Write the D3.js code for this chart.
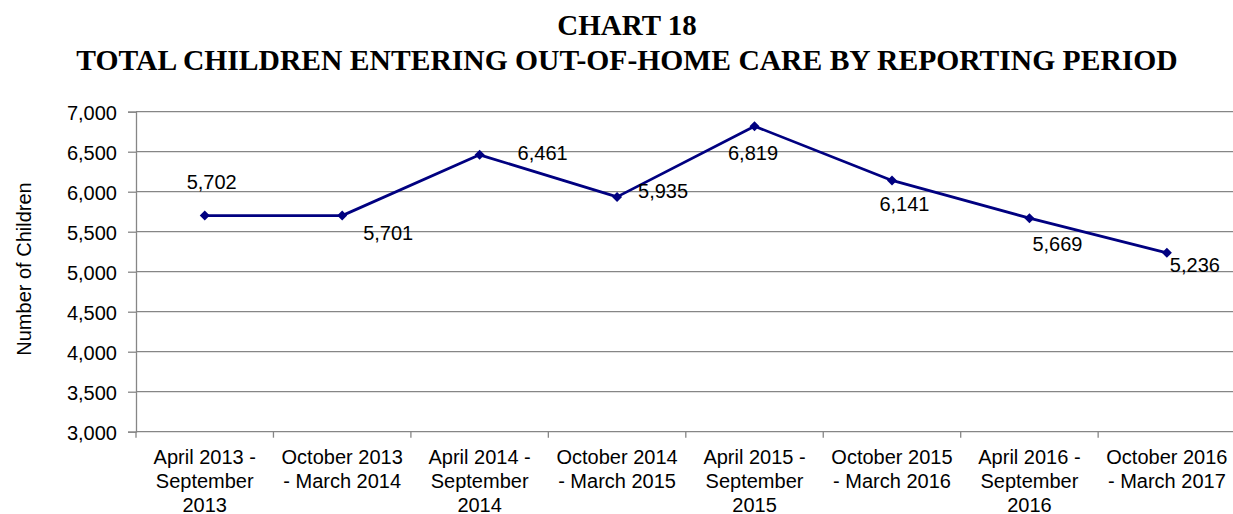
<!DOCTYPE html>
<html>
<head>
<meta charset="utf-8">
<script src="https://cdn.jsdelivr.net/npm/d3@7"></script>
<style>
  html, body { margin: 0; padding: 0; background: #fff; }
  svg { display: block; }
</style>
</head>
<body>
<svg id="chart" width="1233" height="514"></svg>
<script>
const titleLines = ["CHART 18", "TOTAL CHILDREN ENTERING OUT-OF-HOME CARE BY REPORTING PERIOD"];
const yAxisTitle = "Number of Children";
const categories = [
  "April 2013 -\nSeptember\n2013",
  "October 2013\n- March 2014",
  "April 2014 -\nSeptember\n2014",
  "October 2014\n- March 2015",
  "April 2015 -\nSeptember\n2015",
  "October 2015\n- March 2016",
  "April 2016 -\nSeptember\n2016",
  "October 2016\n- March 2017"
];
const values = [5702, 5701, 6461, 5935, 6819, 6141, 5669, 5236];
const yTicks = [3000, 3500, 4000, 4500, 5000, 5500, 6000, 6500, 7000];
// label placement (dx, dy) relative to each point
const labelOffsets = [[7, -34], [46, 17], [63, -2.5], [46, -6], [-1.5, 27], [12.5, 23.5], [28, 26], [28, 12]];

const svg = d3.select("#chart");
const plot = { left: 136, top: 111.7, right: 1235.6, bottom: 431.7 };
const sans = "'Liberation Sans', Arial, sans-serif";
const serif = "'Liberation Serif', 'Times New Roman', serif";
const gridColor = "#868686";
const lineColor = "#000080";

// Title
svg.append("g").selectAll("text").data(titleLines).join("text")
  .attr("x", 627)
  .attr("y", (d, i) => i === 0 ? 35 : 69.5)
  .attr("text-anchor", "middle")
  .style("font-family", serif)
  .style("font-weight", "bold")
  .style("font-size", (d, i) => i === 0 ? "29px" : "29.6px")
  .style("fill", "#000")
  .text(d => d);

const x = d3.scaleBand().domain(categories).range([plot.left, plot.right]).padding(0);
const y = d3.scaleLinear().domain([3000, 7000]).range([plot.bottom, plot.top]);

// Gridlines
svg.append("g").selectAll("line").data(yTicks.filter(t => t !== 3000)).join("line")
  .attr("x1", plot.left).attr("x2", plot.right)
  .attr("y1", d => y(d)).attr("y2", d => y(d))
  .attr("stroke", gridColor).attr("stroke-width", 1.3);

// Y axis
const yAxis = svg.append("g")
  .attr("transform", `translate(${plot.left},0)`)
  .call(d3.axisLeft(y).tickValues(yTicks).tickSize(8).tickPadding(11).tickFormat(d3.format(",")));
yAxis.select(".domain").attr("stroke", gridColor).attr("stroke-width", 1.3);
yAxis.selectAll(".tick line").attr("stroke", gridColor).attr("stroke-width", 1.3);
yAxis.selectAll(".tick text")
  .style("font-family", sans).style("font-size", "20px").style("fill", "#000")
  .attr("dy", "0.38em");

// X axis
const bandEdges = categories.map(c => x(c)).concat([plot.right]);
svg.append("line")
  .attr("x1", plot.left).attr("x2", plot.right)
  .attr("y1", plot.bottom).attr("y2", plot.bottom)
  .attr("stroke", gridColor).attr("stroke-width", 1.3);
svg.append("g").selectAll("line").data(bandEdges).join("line")
  .attr("x1", d => d).attr("x2", d => d)
  .attr("y1", plot.bottom).attr("y2", plot.bottom + 6)
  .attr("stroke", gridColor).attr("stroke-width", 1.3);

const catText = svg.append("g").selectAll("text").data(categories).join("text")
  .attr("text-anchor", "middle")
  .style("font-family", sans).style("font-size", "20px").style("fill", "#000");
catText.each(function(d) {
  const t = d3.select(this);
  const cx = x(d) + x.bandwidth() / 2;
  d.split("\n").forEach((ln, i) => {
    t.append("tspan").attr("x", cx).attr("y", 463.5 + i * 24).text(ln);
  });
});

// Y axis title
svg.append("text")
  .attr("transform", `translate(31,269) rotate(-90)`)
  .attr("text-anchor", "middle")
  .style("font-family", sans).style("font-size", "20px").style("fill", "#000")
  .text(yAxisTitle);

// Line
const pts = values.map((v, i) => [x(categories[i]) + x.bandwidth() / 2, y(v)]);
svg.append("path")
  .attr("d", d3.line()(pts))
  .attr("fill", "none").attr("stroke", lineColor).attr("stroke-width", 2.75)
  .attr("stroke-linejoin", "round");

// Markers
svg.append("g").selectAll("path").data(pts).join("path")
  .attr("transform", d => `translate(${d[0]},${d[1]})`)
  .attr("d", "M0,-5L5,0L0,5L-5,0Z")
  .attr("fill", lineColor);

// Data labels
svg.append("g").selectAll("text").data(values).join("text")
  .attr("x", (d, i) => pts[i][0] + labelOffsets[i][0])
  .attr("y", (d, i) => pts[i][1] + labelOffsets[i][1])
  .attr("dy", "0.36em")
  .attr("text-anchor", "middle")
  .style("font-family", sans).style("font-size", "20px").style("fill", "#000")
  .text(d => d3.format(",")(d));
</script>
</body>
</html>
